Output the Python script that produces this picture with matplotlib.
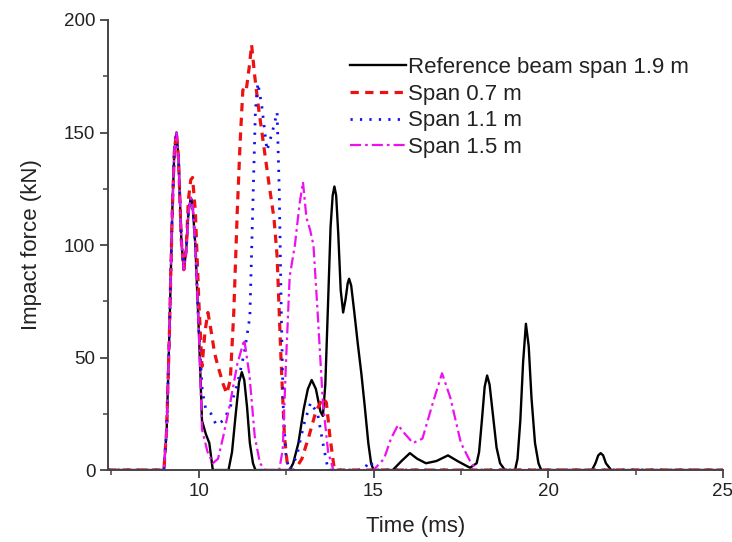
import matplotlib
matplotlib.use('Agg')
import matplotlib.pyplot as plt
from matplotlib.ticker import MultipleLocator

plt.rcParams['font.family'] = ['Liberation Sans', 'DejaVu Sans']

# shared first impact (all spans identical until ~10 ms)
t_common = [7.4, 9.0, 9.08, 9.16, 9.24, 9.3, 9.36, 9.42, 9.5, 9.57, 9.64, 9.7, 9.77, 9.82, 9.9]
f_common = [0, 0, 18, 62, 115, 142, 150, 138, 102, 89, 98, 114, 121, 118, 100]

# reference beam span 1.9 m
t_ref = t_common + [10.0, 10.09, 10.2, 10.3, 10.4, 10.85, 10.95, 11.05, 11.15, 11.23,
                    11.3, 11.38, 11.46, 11.55, 11.62, 12.6, 12.7, 12.85, 13.0, 13.12,
                    13.23, 13.35, 13.48, 13.55, 13.62, 13.7, 13.77, 13.83, 13.88, 13.93,
                    13.99, 14.06, 14.13, 14.2, 14.26, 14.3, 14.36, 14.45, 14.55, 14.65,
                    14.75, 14.85, 14.93, 15.0, 15.55, 15.8, 16.04, 16.25, 16.5, 16.8,
                    17.13, 17.4, 17.76, 17.95, 18.02, 18.1, 18.18, 18.25, 18.32, 18.42,
                    18.52, 18.62, 18.76, 19.05, 19.12, 19.2, 19.28, 19.36, 19.44, 19.52,
                    19.62, 19.72, 19.8, 21.25, 21.35, 21.43, 21.5, 21.57, 21.65, 21.8,
                    25.0]
f_ref = f_common + [62, 22, 16, 12, 0, 0, 8, 24, 39, 43.5,
                    40, 28, 12, 3, 0, 0, 3, 12, 27, 36,
                    40, 36, 26, 24, 38, 75, 108, 122, 126, 122,
                    105, 80, 70, 76, 83, 85, 82, 70, 56, 43,
                    28, 12, 3, 0, 0, 4, 7.5, 5, 3, 4,
                    6.5, 4, 1, 3, 8, 22, 37, 42, 38, 24,
                    10, 3, 0, 0, 5, 22, 48, 65, 55, 32,
                    12, 3, 0, 0, 3, 6.5, 7.5, 6.5, 3, 0,
                    0]

# span 0.7 m
t_07 = t_common[:11] + [9.7, 9.77, 9.82, 9.9, 10.0, 10.09, 10.18, 10.26, 10.35, 10.45,
                        10.55, 10.7, 10.8, 10.9, 11.0, 11.1, 11.18, 11.26, 11.35, 11.45,
                        11.51, 11.6, 11.7, 11.85, 12.0, 12.15, 12.24, 12.35, 12.45, 12.55,
                        12.75, 12.95, 13.15, 13.35, 13.55, 13.65, 13.75, 13.88, 25.0]
f_07 = f_common[:11] + [120, 129, 130, 115, 75, 46, 62, 70, 62, 52,
                        46, 38, 34, 40, 70, 115, 145, 169, 168, 180,
                        189, 175, 162, 145, 128, 112, 95, 50, 15, 0,
                        0, 5, 15, 26, 32, 30, 15, 0, 0]

# span 1.1 m
t_11 = t_common + [10.0, 10.1, 10.2, 10.35, 10.5, 10.7, 10.9, 11.1, 11.3, 11.46,
                   11.55, 11.62, 11.69, 11.8, 11.95, 12.1, 12.24, 12.3, 12.36, 12.42,
                   12.5, 12.6, 12.8, 13.0, 13.2, 13.4, 13.55, 13.7, 14.7, 14.9,
                   15.05, 25.0]
f_11 = f_common + [62, 35, 27, 25, 20, 22, 28, 38, 52, 68,
                   120, 160, 172, 162, 142, 150, 159, 125, 70, 25,
                   5, 0, 6, 20, 30, 25, 12, 0, 0, 4,
                   0, 0]

# span 1.5 m
t_15 = t_common + [10.0, 10.09, 10.25, 10.4, 10.55, 10.7, 10.9, 11.1, 11.3, 11.45,
                   11.6, 11.75, 11.9, 12.3, 12.4, 12.5, 12.6, 12.75, 12.88, 12.98,
                   13.08, 13.18, 13.28, 13.4, 13.55, 13.7, 13.85, 15.0, 15.3, 15.5,
                   15.7, 15.9, 16.13, 16.4, 16.7, 16.96, 17.2, 17.5, 17.76, 17.95,
                   25.0]
f_15 = f_common + [62, 18, 8, 3, 5, 15, 30, 47, 58, 42,
                   15, 3, 0, 0, 9, 50, 86, 100, 118, 128,
                   112, 107, 100, 70, 30, 8, 0, 0, 5, 14,
                   20, 16, 12, 14, 30, 43, 32, 12, 4, 0,
                   0]

fig = plt.figure(figsize=(7.32, 5.42), dpi=100)
ax = fig.add_axes([0.1475, 0.1328, 0.8402, 0.8303])

ax.plot(t_ref, f_ref, color='black', lw=1.7, label='Reference beam span 1.9 m')
ax.plot(t_07, f_07, color='#ee1111', lw=2.3, linestyle=(0, (2.6, 2.0)), label='Span 0.7 m')
ax.plot(t_11, f_11, color='#1111ee', lw=2.0, linestyle=(0, (0.8, 2.6)), label='Span 1.1 m')
ax.plot(t_15, f_15, color='#ee11ee', lw=1.6, linestyle=(0, (5, 1.8, 1.2, 1.8)), label='Span 1.5 m')

ax.set_xlim(7.4, 25)
ax.set_ylim(0, 200)
ax.xaxis.set_major_locator(MultipleLocator(5))
ax.xaxis.set_minor_locator(MultipleLocator(2.5))
ax.yaxis.set_major_locator(MultipleLocator(50))
ax.yaxis.set_minor_locator(MultipleLocator(25))

for s in ['top', 'right']:
    ax.spines[s].set_visible(False)
for s in ['left', 'bottom']:
    ax.spines[s].set_color('#444444')
    ax.spines[s].set_linewidth(1.4)

ax.tick_params(which='major', direction='out', length=6, width=1.3, colors='#444444',
               labelsize=13.5, labelcolor='#222222', pad=3)
ax.tick_params(which='minor', direction='out', length=3.5, width=1.1, colors='#444444')

ax.set_xlabel('Time (ms)', fontsize=16, color='#222222', labelpad=12)
ax.set_ylabel('Impact force (kN)', fontsize=16, color='#222222', labelpad=16)

leg = ax.legend(loc='upper left', bbox_to_anchor=(0.3935, 0.918), frameon=False,
                fontsize=16, handlelength=2.5, handletextpad=0.1, labelspacing=0.26,
                borderpad=0, borderaxespad=0)
for txt in leg.get_texts():
    txt.set_color('#222222')

fig.savefig('out.png', dpi=100)
